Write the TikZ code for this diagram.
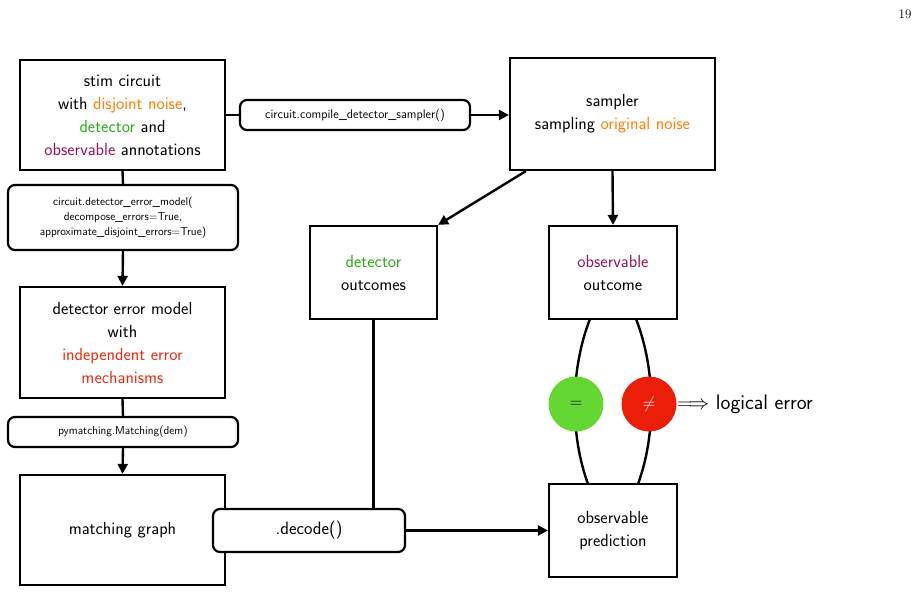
\documentclass[tikz,border=0pt]{standalone}
\usepackage{amssymb}
\usetikzlibrary{positioning,arrows.meta}
\definecolor{noiseorange}{RGB}{255,127,0}
\definecolor{detgreen}{RGB}{40,170,20}
\definecolor{obspurple}{RGB}{150,20,90}
\definecolor{errred}{RGB}{240,40,20}
\definecolor{eqgreen}{RGB}{100,215,50}
\definecolor{neqred}{RGB}{235,30,10}
\tikzset{
  bigbox/.style={draw,line width=2.2pt,align=center,font=\sffamily\fontsize{17.5}{23}\selectfont,inner sep=0pt},
  callbox/.style={draw,line width=2.2pt,rounded corners=7pt,align=center,fill=white,font=\sffamily\fontsize{11.5}{15}\selectfont,inner sep=0pt},
  flow/.style={line width=2.4pt,-{Triangle[length=10pt,width=10pt]}},
  link/.style={line width=2.4pt}
}
\begin{document}
\begin{tikzpicture}[x=1pt,y=-1pt]
  \useasboundingbox (0,0) rectangle (922,594);
  \node[font=\fontsize{13}{15}\selectfont] (page) at (905,14) {19};

  % left column
  \node[bigbox,minimum width=205,minimum height=110] (circuit) at (122.5,115)
    {stim circuit\\with \textcolor{noiseorange}{disjoint noise},\\\textcolor{detgreen}{detector} and\\\textcolor{obspurple}{observable} annotations};
  \node[callbox,minimum width=230,minimum height=65] (dem call) at (123,217.5)
    {circuit.detector\_error\_model(\\decompose\_errors=True,\\approximate\_disjoint\_errors=True)};
  \node[bigbox,minimum width=205,minimum height=111] (dem) at (122.5,342.5)
    {detector error model\\with\\\textcolor{errred}{independent error}\\\textcolor{errred}{mechanisms}};
  \node[callbox,minimum width=230,minimum height=30] (match call) at (123,432)
    {pymatching.Matching(dem)};
  \node[bigbox,minimum width=205,minimum height=110] (graph) at (122.5,530)
    {matching graph};

  % sampler
  \node[callbox,minimum width=230,minimum height=30,font=\sffamily\fontsize{12.5}{15}\selectfont] (sampler call) at (355,115)
    {circuit.compile\_detector\_sampler()};
  \node[bigbox,minimum width=205,minimum height=112] (sampler) at (612.5,114)
    {sampler\\sampling \textcolor{noiseorange}{original noise}};
  \node[bigbox,minimum width=127,minimum height=93] (det out) at (373.5,272.5)
    {\textcolor{detgreen}{detector}\\outcomes};
  \node[bigbox,minimum width=128,minimum height=93] (obs out) at (613,272.5)
    {\textcolor{obspurple}{observable}\\outcome};
  \node[bigbox,minimum width=128,minimum height=93] (obs pred) at (613,530.5)
    {observable\\prediction};

  % comparison
  \draw[link] (590,319) .. controls (570,370) and (570,435) .. (588,484);
  \draw[link] (636,319) .. controls (656,370) and (656,435) .. (638,484);
  \node[circle,fill=eqgreen,minimum size=55,inner sep=0pt,font=\fontsize{18}{20}\selectfont] (eq) at (576,404) {$=$};
  \node[circle,fill=neqred,text=white,minimum size=55,inner sep=0pt,font=\fontsize{18}{20}\selectfont] (neq) at (649,404) {$\neq$};
  \node[anchor=west,font=\sffamily\fontsize{21}{24}\selectfont,inner sep=0pt] (logical) at (677,404) {$\Longrightarrow$ logical error};

  % connectors
  \draw[link] (circuit.east) -- (sampler call.west);
  \draw[flow] (sampler call.east) -- (sampler.west |- sampler call.east);
  \draw[link] (circuit.south) -- (dem call.north);
  \draw[flow] (dem call.south) -- (dem.north);
  \draw[link] (dem.south) -- (match call.north);
  \draw[flow] (match call.south) -- (graph.north);
  \draw[flow] (sampler.south west) ++(17,0) coordinate (s1) (s1) -- (det out.north east);
  \draw[flow] (sampler.south) -- (obs out.north);
  \node[callbox,minimum width=192,minimum height=43,font=\sffamily\fontsize{18}{20}\selectfont] (decode) at (309,530.5) {.decode()};
  \draw[link] (det out.south) -- (det out.south |- decode.north);
  \draw[flow] (decode.east) -- (obs pred.west);
\end{tikzpicture}
\end{document}
